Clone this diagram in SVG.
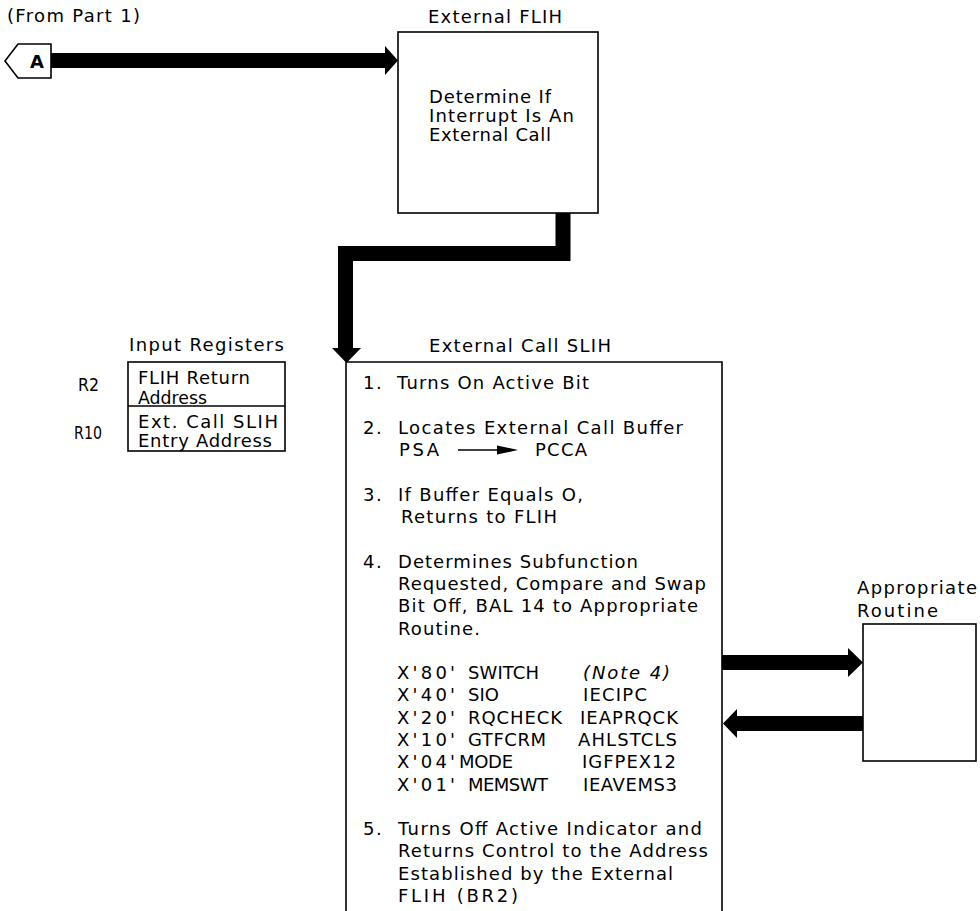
<svg xmlns="http://www.w3.org/2000/svg" width="980" height="911" viewBox="0 0 980 911">
<style>
text{font-family:"DejaVu Sans","Liberation Sans",sans-serif;font-size:18px;fill:#000}
.ls{letter-spacing:1.5px}
.box{fill:#fff;stroke:#000;stroke-width:1.6}
.thick{fill:none;stroke:#000;stroke-width:15;stroke-linejoin:miter;stroke-linecap:butt}
.fill{fill:#000;stroke:none}
</style>
<rect width="980" height="911" fill="#fff"/>

<g id="connectors">
  <rect class="fill" x="51" y="53" width="336" height="15"/>
  <polygon class="fill" points="385,46 398,60.5 385,75"/>
  <path class="thick" d="M563,210 V253.5 H345.5 V349"/>
  <polygon class="fill" points="332,348 361,348 346.5,363"/>
  <rect class="fill" x="722" y="655" width="127" height="15"/>
  <polygon class="fill" points="848,648 863,662.5 848,677"/>
  <rect class="fill" x="736" y="716" width="127" height="15"/>
  <polygon class="fill" points="737,709 723,723.5 737,738"/>
</g>

<g id="offpage-A">
  <text x="7" y="22" textLength="133" lengthAdjust="spacing">(From Part 1)</text>
  <polygon class="box" points="5,61 18,44 51,44 51,78 18,78"/>
  <text x="37" y="67.5" text-anchor="middle" font-weight="bold">A</text>
</g>

<g id="external-flih">
  <text x="428" y="23" textLength="134" lengthAdjust="spacing">External FLIH</text>
  <rect class="box" x="398" y="32" width="200" height="181"/>
  <text x="429" y="103" textLength="122" lengthAdjust="spacing">Determine If</text>
  <text x="429" y="122" textLength="145" lengthAdjust="spacing">Interrupt Is An</text>
  <text x="429" y="141" textLength="122" lengthAdjust="spacing">External Call</text>
</g>

<g id="input-registers">
  <text x="129" y="351" textLength="155" lengthAdjust="spacing">Input Registers</text>
  <rect class="box" x="128" y="362" width="157" height="89"/>
  <line x1="128" y1="406" x2="285" y2="406" stroke="#000" stroke-width="1.6"/>
  <text x="78" y="391" font-size="17" textLength="21" lengthAdjust="spacingAndGlyphs">R2</text>
  <text x="74" y="439" font-size="17" textLength="28" lengthAdjust="spacingAndGlyphs">R10</text>
  <text x="138" y="384" textLength="112" lengthAdjust="spacing">FLIH Return</text>
  <text x="138" y="404" font-size="17" textLength="69" lengthAdjust="spacingAndGlyphs">Address</text>
  <text x="138" y="428" textLength="140" lengthAdjust="spacing">Ext. Call SLIH</text>
  <text x="138" y="447" textLength="134" lengthAdjust="spacing">Entry Address</text>
</g>

<g id="external-call-slih">
  <text x="429" y="352" textLength="182" lengthAdjust="spacing">External Call SLIH</text>
  <path class="box" d="M346,920 V362 H722 V920"/>
  <text class="ls" x="363" y="389">1.</text>
  <text x="397" y="389" textLength="192" lengthAdjust="spacing">Turns On Active Bit</text>
  <text class="ls" x="363" y="433.5">2.</text>
  <text x="398" y="433.5" textLength="285" lengthAdjust="spacing">Locates External Call Buffer</text>
  <text x="399" y="456" textLength="40" lengthAdjust="spacing">PSA</text>
  <line x1="458" y1="450" x2="502" y2="450" stroke="#000" stroke-width="1.4"/>
  <polygon class="fill" points="497,445.5 518,450 497,454.5"/>
  <text x="535" y="456" textLength="52" lengthAdjust="spacing">PCCA</text>
  <text class="ls" x="363" y="500.5">3.</text>
  <text x="398" y="500.5" textLength="185" lengthAdjust="spacing">If Buffer Equals O,</text>
  <text x="401" y="523" textLength="156" lengthAdjust="spacing">Returns to FLIH</text>
  <text class="ls" x="363" y="567.5">4.</text>
  <text x="398" y="567.5" textLength="240" lengthAdjust="spacing">Determines Subfunction</text>
  <text x="398" y="590" textLength="308" lengthAdjust="spacing">Requested, Compare and Swap</text>
  <text x="398" y="612" textLength="300" lengthAdjust="spacing">Bit Off, BAL 14 to Appropriate</text>
  <text x="398" y="634.5" textLength="82" lengthAdjust="spacing">Routine.</text>

  <text x="397" y="679" textLength="58" lengthAdjust="spacing">X'80'</text>
  <text x="468" y="679" textLength="71" lengthAdjust="spacing">SWITCH</text>
  <text x="583" y="679" font-style="italic" textLength="87" lengthAdjust="spacing">(Note 4)</text>
  <text x="397" y="701.3" textLength="58" lengthAdjust="spacing">X'40'</text>
  <text x="468" y="701.3" textLength="31" lengthAdjust="spacing">SIO</text>
  <text x="583" y="701.3" textLength="64" lengthAdjust="spacing">IECIPC</text>
  <text x="397" y="723.6" textLength="58" lengthAdjust="spacing">X'20'</text>
  <text x="468" y="723.6" textLength="94" lengthAdjust="spacing">RQCHECK</text>
  <text x="580" y="723.6" textLength="98" lengthAdjust="spacing">IEAPRQCK</text>
  <text x="397" y="746" textLength="58" lengthAdjust="spacing">X'10'</text>
  <text x="468" y="746" textLength="78" lengthAdjust="spacing">GTFCRM</text>
  <text x="578" y="746" textLength="99" lengthAdjust="spacing">AHLSTCLS</text>
  <text x="397" y="768.3" textLength="58" lengthAdjust="spacing">X'04'</text>
  <text x="459" y="768.3" textLength="54" lengthAdjust="spacing">MODE</text>
  <text x="582" y="768.3" textLength="94" lengthAdjust="spacing">IGFPEX12</text>
  <text x="397" y="790.6" textLength="58" lengthAdjust="spacing">X'01'</text>
  <text x="468" y="790.6" textLength="80" lengthAdjust="spacing">MEMSWT</text>
  <text x="583" y="790.6" textLength="94" lengthAdjust="spacing">IEAVEMS3</text>

  <text class="ls" x="363" y="835">5.</text>
  <text x="398" y="835" textLength="304" lengthAdjust="spacing">Turns Off Active Indicator and</text>
  <text x="398" y="857.3" textLength="310" lengthAdjust="spacing">Returns Control to the Address</text>
  <text x="398" y="879.6" textLength="275" lengthAdjust="spacing">Established by the External</text>
  <text x="398" y="902" textLength="120" lengthAdjust="spacing">FLIH (BR2)</text>
</g>

<g id="appropriate-routine">
  <text x="857" y="594" textLength="120" lengthAdjust="spacing">Appropriate</text>
  <text x="857" y="617" textLength="81" lengthAdjust="spacing">Routine</text>
  <rect class="box" x="863" y="624" width="113" height="137"/>
</g>
</svg>
